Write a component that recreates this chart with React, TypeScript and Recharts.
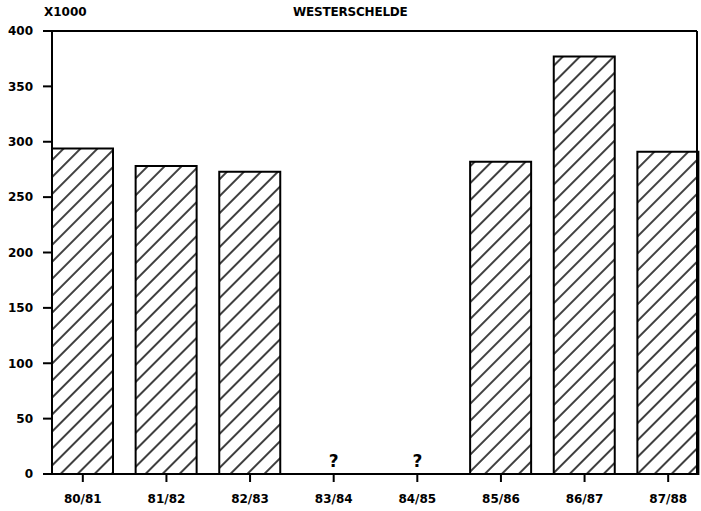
import { BarChart, Bar, XAxis, YAxis, ReferenceLine, ReferenceDot } from 'recharts';

const seasons = ['80/81', '81/82', '82/83', '83/84', '84/85', '85/86', '86/87', '87/88'];
// thousands; null = no count available ("?")
const counts: (number | null)[] = [294, 278, 273, null, null, 282, 377, 291];
const yTicks = [0, 50, 100, 150, 200, 250, 300, 350, 400];

const data = seasons.map((season, i) => ({
  season,
  value: counts[i] ?? 0,
  note: counts[i] == null ? '?' : '',
}));

const font = '"DejaVu Sans", sans-serif';
const tickStyle = { fill: '#000', fontSize: 12, fontWeight: 'bold' as const, fontFamily: font };
const axisLine = { stroke: '#000', strokeWidth: 2 };

export default function App() {
  return (
    <div style={{ position: 'absolute', left: 0, top: 0, width: 701, height: 511, background: '#fff' }}>
      <div
        style={{
          position: 'absolute',
          left: 44,
          top: 4,
          fontFamily: font,
          fontWeight: 'bold',
          fontSize: 12,
          lineHeight: '16px',
        }}
      >
        X1000
      </div>
      <div
        style={{
          position: 'absolute',
          left: 293,
          top: 4,
          fontFamily: font,
          fontWeight: 'bold',
          fontSize: 12,
          lineHeight: '16px',
          letterSpacing: -0.2,
        }}
      >
        WESTERSCHELDE
      </div>
      <BarChart
        width={701}
        height={511}
        data={data}
        margin={{ top: 31, right: 3, left: 0, bottom: 7 }}
        barSize={61}
      >
        <defs>
          <pattern id="hatch" patternUnits="userSpaceOnUse" width={12} height={12} patternTransform="rotate(45)">
            <rect width={12} height={12} fill="#fff" />
            <line x1={6} y1={0} x2={6} y2={12} stroke="#000" strokeWidth={1.5} />
          </pattern>
        </defs>
        <XAxis
          dataKey="season"
          padding={{ left: -11, right: -13 }}
          height={30}
          axisLine={axisLine}
          tickLine={{ stroke: '#000', strokeWidth: 2 }}
          tickSize={8}
          tickMargin={12}
          tick={tickStyle}
        />
        <YAxis
          domain={[0, 400]}
          ticks={yTicks}
          width={52}
          axisLine={axisLine}
          tickLine={{ stroke: '#000', strokeWidth: 2 }}
          tickSize={9}
          tickMargin={10}
          tick={tickStyle}
          interval={0}
        />
        <YAxis yAxisId="right" orientation="right" width={1} tick={false} tickLine={false} axisLine={axisLine} />
        <ReferenceLine y={400} stroke="#000" strokeWidth={2} />
        <Bar dataKey="value" fill="url(#hatch)" stroke="#000" strokeWidth={2} isAnimationActive={false} />
        {data
          .filter((d) => d.note)
          .map((d) => (
            <ReferenceDot
              key={d.season}
              x={d.season}
              y={0}
              r={0}
              stroke="none"
              fill="none"
              label={{
                value: d.note,
                position: 'top',
                offset: 7,
                fill: '#000',
                fontSize: 17,
                fontWeight: 'bold',
                fontFamily: font,
              }}
            />
          ))}
      </BarChart>
    </div>
  );
}
